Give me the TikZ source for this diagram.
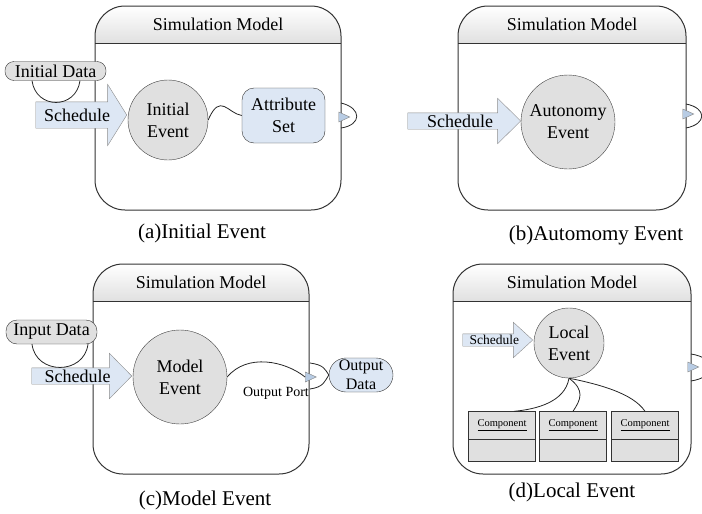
\documentclass[tikz,border=0pt]{standalone}
\usepackage{fontspec}
\setmainfont{Liberation Serif}
\usetikzlibrary{shapes.arrows,shapes.geometric,shapes.multipart}

\definecolor{evgray}{RGB}{224,224,224}
\definecolor{lblue}{RGB}{221,231,244}
\definecolor{portblue}{RGB}{184,204,228}

\tikzset{
  model/.style={draw=black!80, line width=1pt},
  header/.style={top color=white, bottom color=black!12},
  event/.style={circle, draw=black!75, fill=evgray, inner sep=0pt, align=center,
    font=\fontsize{18}{22}\selectfont},
  schedule/.style={single arrow, draw=black!45, fill=lblue, anchor=tip,
    single arrow head indent=0pt, text height=12pt, text depth=0pt, inner xsep=1pt,
    font=\fontsize{18}{20}\selectfont},
  port/.style={isosceles triangle, isosceles triangle stretches, draw=black!50,
    fill=portblue, minimum width=10pt, minimum height=11pt, inner sep=0pt},
  data/.style={draw=black!80, inner sep=0pt, align=center},
  comp/.style={rectangle split, rectangle split parts=2, draw=black!80,
    rectangle split part fill={evgray}, minimum width=67pt, inner ysep=8pt,
    rectangle split empty part height=6pt, rectangle split empty part depth=0pt,
    font=\fontsize{10.5}{12}\selectfont},
  wire/.style={draw=black!85, line width=0.8pt},
  title/.style={font=\fontsize{18}{20}\selectfont},
  caption/.style={font=\fontsize{21}{24}\selectfont}
}

% frame of a simulation model: name, left, top, right, bottom
\newcommand\simmodel[5]{%
  \begin{scope}
    \clip[rounded corners=30pt] (#2,#3) rectangle (#4,#5);
    \fill[header] (#2,#3) rectangle (#4,#3+37);
  \end{scope}
  \draw[model, rounded corners=30pt] (#2,#3) rectangle (#4,#5);
  \draw[model] (#2,#3+37) -- (#4,#3+37);
  \node[title] (#1) at ({(#2+#4)/2},#3+18) {Simulation Model};
}

\begin{document}
\begin{tikzpicture}[x=1pt,y=-1pt]
  \useasboundingbox (0,0) rectangle (702,514);

  % (a) initial event
  \simmodel{ta}{95}{6}{341}{210}
  \node[event, minimum size=80pt] (ie) at (168,120) {Initial\\Event};
  \node[data, fill=lblue, rounded corners=12pt, minimum width=83pt, minimum height=55pt,
    font=\fontsize{18}{22}\selectfont] (attr) at (283.5,115.5) {Attribute\\Set};
  \node[schedule, minimum height=91pt, inner ysep=7pt, single arrow head extend=17.5pt,
    single arrow tip angle=116] (sa) at (127,115) {Schedule};
  \node[data, fill=evgray, rounded corners=9pt, minimum width=101pt, minimum height=19pt,
    font=\fontsize{18}{20}\selectfont] (idata) at (55.5,71) {Initial Data};
  \draw[wire] ([xshift=-23.5pt]idata.south) .. controls +(4,29) and +(-4,29) .. ([xshift=24.5pt]idata.south);
  \draw[wire] (ie.east) .. controls +(12,-28) and +(-14,-2) .. (attr.west);
  \coordinate (pa1) at (341,103);
  \coordinate (pa2) at (341,128);
  \draw[wire] (pa1) .. controls +(21,5) and +(21,-3) .. (pa2);
  \node[port] (pa) at (342,117) {};
  \node[caption] (capa) at (202,233) {(a)Initial Event};

  % (b) autonomy event
  \simmodel{tb}{458}{6}{686}{210}
  \node[event, minimum size=94pt] (ae) at (568,122) {Autonomy\\Event};
  \node[schedule, minimum height=113pt, inner ysep=2pt, single arrow head extend=14.5pt,
    single arrow tip angle=89] (sb) at (521,121) {Schedule};
  \coordinate (pb1) at (686,104);
  \coordinate (pb2) at (686,128);
  \draw[wire] (pb1) .. controls +(21,4) and +(21,-4) .. (pb2);
  \node[port] (pb) at (686,114) {};
  \node[caption] (capb) at (596,235) {(b)Automomy Event};

  % (c) model event
  \simmodel{tc}{93}{264}{309}{474}
  \node[event, minimum size=94pt] (me) at (180,377) {Model\\Event};
  \node[schedule, minimum height=100pt, inner ysep=2pt, single arrow head extend=14.5pt,
    single arrow tip angle=91] (sc) at (132,376) {Schedule};
  \node[data, fill=evgray, rounded corners=11pt, minimum width=91pt, minimum height=24pt,
    font=\fontsize{18}{20}\selectfont] (indata) at (51.5,332) {Input Data};
  \draw[wire] ([xshift=-19.5pt]indata.south) .. controls +(4,31) and +(-4,31) .. ([xshift=36.5pt]indata.south);
  \node[port] (pc) at (308.5,377) {};
  \node[font=\fontsize{14}{16}\selectfont] (opl) at (276,393) {Output Port};
  \draw[wire] (me.east) .. controls +(20,-24) and +(-20,-16) .. (pc.west);
  \node[data, fill=lblue, rounded corners=17pt, minimum width=64pt, minimum height=34pt,
    font=\fontsize{16}{19}\selectfont] (od) at (361,375) {Output\\Data};
  \coordinate (pc1) at (310,363);
  \coordinate (pc2) at (310,389);
  \draw[wire] (pc1) .. controls +(14,2) and +(-4,-6) .. (od.west);
  \draw[wire] (od.west) .. controls +(-4,6) and +(14,-2) .. (pc2);
  \node[caption] (capc) at (205,500) {(c)Model Event};

  % (d) local event
  \simmodel{td}{453}{264}{691}{474}
  \node[event, minimum size=70pt] (le) at (569,343) {Local\\Event};
  \node[schedule, minimum height=70pt, text height=9pt, inner ysep=1.5pt,
    single arrow head extend=11.5pt, single arrow tip angle=85,
    font=\fontsize{13.5}{15}\selectfont] (sd) at (533,340) {Schedule};
  \foreach \n/\x in {c1/502,c2/573,c3/645}
    \node[comp] (\n) at (\x,436.5) {\underline{Component}\nodepart{two}};
  \draw[wire] (le.south) .. controls +(-4,24) and +(22,-2) .. ([xshift=12pt]c1.north);
  \draw[wire] (le.south) .. controls +(16,12) and +(8,-12) .. (c2.north);
  \draw[wire] (le.south) .. controls +(30,6) and +(-12,-18) .. (c3.north);
  \coordinate (pd1) at (691,354);
  \coordinate (pd2) at (691,381);
  \draw[wire] (pd1) .. controls +(26,4) and +(26,-4) .. (pd2);
  \node[port] (pd) at (691,367) {};
  \node[caption] (capd) at (572,492) {(d)Local Event};
\end{tikzpicture}
\end{document}
